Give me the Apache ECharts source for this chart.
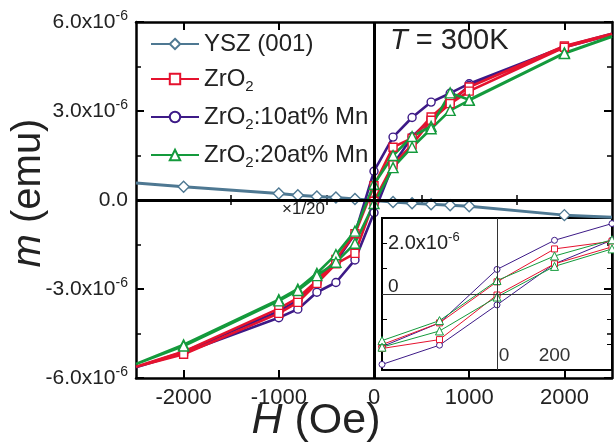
<!DOCTYPE html>
<html>
<head>
<meta charset="utf-8">
<script src="https://cdn.jsdelivr.net/npm/echarts@6/dist/echarts.min.js"></script>
<style>
  html, body { margin: 0; padding: 0; background: #fff; }
  #chart { width: 614px; height: 446px; }
</style>
</head>
<body>
<div id="chart"></div>
<script>
// m values are in units of 1e-6 emu
const fieldDown = [2500, 2000, 1000, 800, 600, 400, 200, 0, -200, -400, -600, -800, -1000, -2000, -2500]
const fieldUp = [-2500, -2000, -1000, -800, -600, -400, -200, 0, 200, 400, 600, 800, 1000, 2000, 2500]

const zro2Down = [5.60, 5.19, 3.81, 3.36, 2.80, 2.08, 1.78, 0.48, -1.14, -2.00, -2.72, -3.30, -3.66, -5.11, -5.62]
const zro2Up = [-5.67, -5.20, -3.82, -3.45, -2.81, -2.15, -1.80, -0.04, 1.19, 1.86, 2.69, 3.25, 3.67, 5.15, 5.58]

const mn10Down = [5.60, 5.17, 3.92, 3.60, 3.30, 2.78, 2.12, 0.97, -1.14, -2.08, -2.76, -3.38, -3.75, -5.12, -5.64]
const mn10Up = [-5.68, -5.15, -3.97, -3.68, -3.11, -2.78, -2.02, -0.43, 1.19, 2.13, 2.74, 3.28, 3.86, 5.15, 5.58]

const mn20Down = [5.52, 4.96, 3.38, 3.61, 2.48, 2.14, 1.50, 0.53, -1.05, -1.84, -2.47, -3.00, -3.36, -4.88, -5.53]
const mn20Up = [-5.56, -4.92, -3.40, -3.05, -2.55, -2.10, -1.46, -0.12, 1.09, 1.78, 2.40, 3.02, 3.36, 4.94, 5.50]

// substrate, drawn x1/20
const yszField = [-2500, -2000, -1000, -800, -600, -400, -200, 0, 200, 400, 600, 800, 1000, 2000, 2500]
const yszM = [0.57, 0.45, 0.22, 0.16, 0.12, 0.085, 0.03, -0.02, -0.07, -0.11, -0.14, -0.18, -0.21, -0.51, -0.58]

const hMajor = [-2000, -1000, 0, 1000, 2000]
const hMinor = [-1500, -500, 500, 1500]
const insetHLabels = [0, 200]
const insetMLabels = [0, 2]

const names = ['YSZ (001)', 'ZrO2', 'ZrO2:10at% Mn', 'ZrO2:20at% Mn']
const colors = {
  'YSZ (001)': '#4e7892',
  'ZrO2': '#e5122e',
  'ZrO2:10at% Mn': '#3d1a87',
  'ZrO2:20at% Mn': '#149a3c',
}

const H_MIN = -2500
const H_MAX = 2500
const FONT = 'Liberation Sans, Arial, sans-serif'

function loopData(down, up) {
  const pts = []
  fieldDown.forEach((h, i) => pts.push(edgePoint(h, down[i])))
  fieldUp.forEach((h, i) => pts.push(edgePoint(h, up[i])))
  return pts
}

function edgePoint(h, m) {
  // the loops run on past the frame, no marker at the edge
  if (h <= H_MIN || h >= H_MAX) return { value: [h, m], symbol: 'none' }
  return [h, m]
}

function loopSeries(name, symbol, down, up, inset) {
  return {
    name,
    type: 'line',
    xAxisIndex: inset ? 4 : 0,
    yAxisIndex: inset ? 2 : 0,
    data: loopData(down, up),
    symbol,
    symbolSize: inset ? (symbol === 'triangle' ? 8 : 6) : (symbol === 'triangle' ? 10 : 8),
    showAllSymbol: true,
    clip: true,
    z: 3,
    color: colors[name],
    lineStyle: { color: colors[name], width: inset ? 1 : 2.6 },
    itemStyle: { color: '#fff', borderColor: colors[name], borderWidth: inset ? 1 : 1.4 },
    emphasis: { disabled: true },
    animation: false,
  }
}

const supLabel = (v) => (v === 0 ? '0.0' : v.toFixed(1) + 'x10{sup|-6}')
const subName = (n) => n.replace('O2', 'O{sub|2}')

const chart = echarts.init(document.getElementById('chart'))

chart.setOption({
  animation: false,
  textStyle: { fontFamily: FONT },
  grid: [
    { left: 136, top: 22, right: 2, bottom: 68, outerBoundsMode: 'none' },
    {
      left: 382, top: 218, right: 2, bottom: 76, outerBoundsMode: 'none',
      show: true, backgroundColor: '#fff', borderColor: '#000', borderWidth: 2,
    },
  ],
  legend: {
    left: 145,
    top: 27,
    orient: 'vertical',
    itemWidth: 48,
    itemHeight: 13,
    itemGap: 11,
    data: names,
    formatter: subName,
    textStyle: {
      fontSize: 24,
      color: '#222',
      padding: [0, 0, 0, 0],
      rich: { sub: { fontSize: 15, padding: [15, 0, 0, 0], color: '#222' } },
    },
  },
  xAxis: [
    {
      gridIndex: 0, type: 'value', position: 'bottom', min: H_MIN, max: H_MAX,
      name: '{i|H} (Oe)', nameLocation: 'middle', nameGap: 22, nameMoveOverlap: false,
      nameTextStyle: {
        fontSize: 43, color: '#222', padding: [0, 116, 0, 0],
        rich: { i: { fontSize: 43, fontStyle: 'italic', color: '#222' } },
      },
      axisLine: { onZero: false, lineStyle: { color: '#000', width: 2.5 } },
      axisTick: { inside: true, length: 8, customValues: hMajor, lineStyle: { color: '#000', width: 2 } },
      axisLabel: { customValues: hMajor, fontSize: 22, color: '#222', margin: 9, formatter: (v) => String(v) },
      splitLine: { show: false },
    },
    {
      gridIndex: 0, type: 'value', position: 'bottom', min: H_MIN, max: H_MAX,
      axisLine: { show: false },
      axisTick: { inside: true, length: 5, customValues: hMinor, lineStyle: { color: '#000', width: 1.5 } },
      axisLabel: { show: false },
      splitLine: { show: false },
    },
    {
      gridIndex: 0, type: 'value', position: 'top', min: H_MIN, max: H_MAX,
      axisLine: { onZero: false, lineStyle: { color: '#000', width: 2.5 } },
      axisTick: { inside: true, length: 8, customValues: hMajor, lineStyle: { color: '#000', width: 2 } },
      axisLabel: { show: false },
      splitLine: { show: false },
    },
    {
      gridIndex: 0, type: 'value', position: 'top', min: H_MIN, max: H_MAX,
      axisLine: { show: false },
      axisTick: { inside: true, length: 5, customValues: hMinor, lineStyle: { color: '#000', width: 1.5 } },
      axisLabel: { show: false },
      splitLine: { show: false },
    },
    {
      gridIndex: 1, type: 'value', position: 'bottom', min: -400, max: 400,
      axisLine: { onZero: false, lineStyle: { color: '#000', width: 2 } },
      axisTick: { show: false },
      axisLabel: {
        inside: true, customValues: insetHLabels, fontSize: 19, color: '#333', margin: 5,
        formatter: (v) => (v === 0 ? '{z|0}' : String(v)),
        rich: { z: { fontSize: 19, color: '#333', padding: [0, 0, 0, 14] } },
      },
      splitLine: { show: false },
    },
  ],
  yAxis: [
    {
      gridIndex: 0, type: 'value', position: 'left', min: -6, max: 6, interval: 3,
      name: '{i|m} (emu)', nameLocation: 'middle', nameGap: 87, nameMoveOverlap: false,
      nameTextStyle: {
        fontSize: 40, color: '#222', padding: [0, 0, 0, 14],
        rich: { i: { fontSize: 40, fontStyle: 'italic', color: '#222' } },
      },
      axisLine: { onZero: false, lineStyle: { color: '#000', width: 2.5 } },
      axisTick: { inside: true, length: 8, lineStyle: { color: '#000', width: 2 } },
      minorTick: { show: true, splitNumber: 2, length: 5, lineStyle: { color: '#000', width: 1.5 } },
      axisLabel: {
        fontSize: 21, color: '#222', margin: 8, formatter: supLabel,
        rich: { sup: { fontSize: 14, color: '#222', padding: [0, 0, 12, 0] } },
      },
      splitLine: { show: false },
    },
    {
      gridIndex: 0, type: 'value', position: 'right', min: -6, max: 6, interval: 3,
      axisLine: { onZero: false, lineStyle: { color: '#000', width: 2.5 } },
      axisTick: { inside: true, length: 8, lineStyle: { color: '#000', width: 2 } },
      minorTick: { show: true, splitNumber: 2, length: 5, lineStyle: { color: '#000', width: 1.5 } },
      axisLabel: { show: false },
      splitLine: { show: false },
    },
    {
      gridIndex: 1, type: 'value', position: 'left', min: -3, max: 3, interval: 1,
      axisLine: { onZero: false, lineStyle: { color: '#000', width: 2 } },
      axisTick: { inside: true, length: 5, lineStyle: { color: '#000', width: 1 } },
      axisLabel: {
        inside: true, customValues: insetMLabels, fontSize: 20, color: '#222', margin: 6,
        formatter: (v) => (v === 0 ? '{z|0}' : v.toFixed(1) + 'x10{sup|-6}'),
        rich: {
          sup: { fontSize: 13, color: '#222', padding: [0, 0, 11, 0] },
          z: { fontSize: 19, color: '#222', padding: [0, 0, 14, 0] },
        },
      },
      splitLine: { show: false },
    },
    {
      gridIndex: 1, type: 'value', position: 'right', min: -3, max: 3, interval: 1,
      axisLine: { onZero: false, lineStyle: { color: '#000', width: 2 } },
      axisTick: { inside: true, length: 5, lineStyle: { color: '#000', width: 1 } },
      axisLabel: { show: false },
      splitLine: { show: false },
    },
  ],
  graphic: [
    {
      type: 'text', left: 390, top: 26, z: 10,
      style: {
        text: '{i|T} = 300K', fontSize: 29, fill: '#222', fontFamily: FONT,
        rich: { i: { fontSize: 29, fontStyle: 'italic', fill: '#222' } },
      },
    },
    {
      type: 'text', left: 282, top: 201, z: 10,
      style: { text: '\u00d71/20', fontSize: 17, fill: '#222', fontFamily: FONT },
    },
  ],
  series: [
    {
      name: 'YSZ (001)',
      type: 'line',
      xAxisIndex: 0,
      yAxisIndex: 0,
      data: yszField.map((h, i) => edgePoint(h, yszM[i])),
      symbol: 'diamond',
      symbolSize: 11,
      showAllSymbol: true,
      z: 2,
      color: colors['YSZ (001)'],
      lineStyle: { color: colors['YSZ (001)'], width: 3 },
      itemStyle: { color: '#fff', borderColor: colors['YSZ (001)'], borderWidth: 1.4 },
      emphasis: { disabled: true },
      markLine: {
        silent: true,
        symbol: 'none',
        label: { show: false },
        lineStyle: { color: '#000', width: 3, type: 'solid' },
        data: [{ yAxis: 0 }, { xAxis: 0 }],
      },
    },
    loopSeries('ZrO2:10at% Mn', 'circle', mn10Down, mn10Up, false),
    loopSeries('ZrO2', 'rect', zro2Down, zro2Up, false),
    loopSeries('ZrO2:20at% Mn', 'triangle', mn20Down, mn20Up, false),
    Object.assign(loopSeries('ZrO2:10at% Mn', 'circle', mn10Down, mn10Up, true), {
      markLine: {
        silent: true,
        symbol: 'none',
        label: { show: false },
        lineStyle: { color: '#333', width: 1, type: 'solid' },
        data: [{ yAxis: 0 }, { xAxis: 0 }],
      },
    }),
    loopSeries('ZrO2', 'rect', zro2Down, zro2Up, true),
    loopSeries('ZrO2:20at% Mn', 'triangle', mn20Down, mn20Up, true),
  ],
})
</script>
</body>
</html>
